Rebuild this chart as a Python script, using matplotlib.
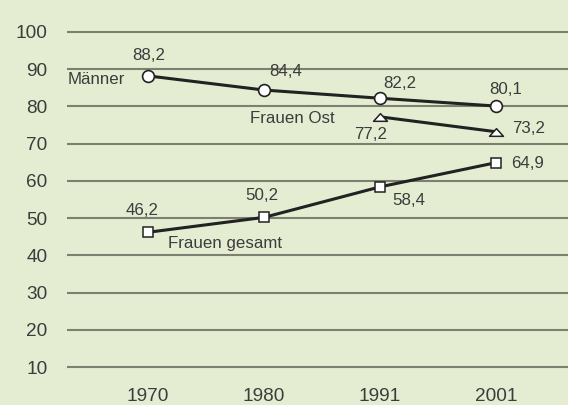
import matplotlib
matplotlib.use("Agg")
import matplotlib.pyplot as plt
from matplotlib.path import Path

years = ["1970", "1980", "1991", "2001"]
maenner = [88.2, 84.4, 82.2, 80.1]
frauen_ost_years = ["1991", "2001"]
frauen_ost = [77.2, 73.2]
frauen_gesamt = [46.2, 50.2, 58.4, 64.9]
yticks = [10, 20, 30, 40, 50, 60, 70, 80, 90, 100]

bg = "#e4edd2"
txt = "#3c3c3c"
linec = "#222222"
gridc = "#7b8070"

plt.rcParams["font.family"] = ["Liberation Sans", "DejaVu Sans"]

fig = plt.figure(figsize=(5.68, 4.05), dpi=100, facecolor=bg)
ax = fig.add_axes([67 / 568, 25 / 405, 501 / 568, 360 / 405])
ax.set_facecolor(bg)

xpos = {y: i for i, y in enumerate(years)}
xs = [xpos[y] for y in years]
xs_ost = [xpos[y] for y in frauen_ost_years]

tri = Path([(-1, -0.55), (1, -0.55), (0, 0.55), (-1, -0.55)],
           [Path.MOVETO, Path.LINETO, Path.LINETO, Path.CLOSEPOLY])

ax.plot(xs, maenner, color=linec, lw=2.2, marker="o", ms=8.5,
        mfc="white", mec=linec, mew=1.2, zorder=3)
ax.plot(xs_ost, frauen_ost, color=linec, lw=2.2, marker=tri, ms=10,
        mfc="white", mec=linec, mew=1.1, zorder=3)
ax.plot(xs, frauen_gesamt, color=linec, lw=2.2, marker="s", ms=7.5,
        mfc="white", mec=linec, mew=1.1, zorder=3)

ax.set_xlim(-0.7, 3.62)
ax.set_ylim(6.51, 103.22)
ax.set_xticks(xs)
ax.set_xticklabels(years)
ax.set_yticks(yticks)
ax.set_yticklabels([str(v) for v in yticks])
ax.tick_params(axis="both", length=0, labelsize=13.7, colors=txt)
ax.tick_params(axis="y", pad=14)
ax.tick_params(axis="x", pad=6)
for s in ax.spines.values():
    s.set_visible(False)
ax.yaxis.grid(True, color=gridc, lw=1.5)
ax.set_axisbelow(True)

fs = 12.2

def lab(s, x, y, dx, dy, ha="center"):
    ax.annotate(s, (x, y), xytext=(dx, dy), textcoords="offset pixels",
                ha=ha, va="center", fontsize=fs, color=txt)

def fmt(v):
    return f"{v:.1f}".replace(".", ",")

# Männer labels
lab(fmt(maenner[0]), xs[0], maenner[0], 1, 20)
lab(fmt(maenner[1]), xs[1], maenner[1], 5, 19, ha="left")
lab(fmt(maenner[2]), xs[2], maenner[2], 3, 15, ha="left")
lab(fmt(maenner[3]), xs[3], maenner[3], -7, 17, ha="left")
lab("Männer", xs[0], maenner[0], -23, -4, ha="right")

# Frauen Ost labels
lab("Frauen Ost", xs_ost[0], frauen_ost[0], -45, -2, ha="right")
lab(fmt(frauen_ost[0]), xs_ost[0], frauen_ost[0], 7, -18, ha="right")
lab(fmt(frauen_ost[1]), xs_ost[1], frauen_ost[1], 16, 3, ha="left")

# Frauen gesamt labels
lab(fmt(frauen_gesamt[0]), xs[0], frauen_gesamt[0], -6, 22)
lab(fmt(frauen_gesamt[1]), xs[1], frauen_gesamt[1], -2, 22)
lab(fmt(frauen_gesamt[2]), xs[2], frauen_gesamt[2], 12, -14, ha="left")
lab(fmt(frauen_gesamt[3]), xs[3], frauen_gesamt[3], 15, -1, ha="left")
lab("Frauen gesamt", xs[0], frauen_gesamt[0], 20, -11, ha="left")

fig.savefig("out.png", dpi=100, facecolor=bg)
